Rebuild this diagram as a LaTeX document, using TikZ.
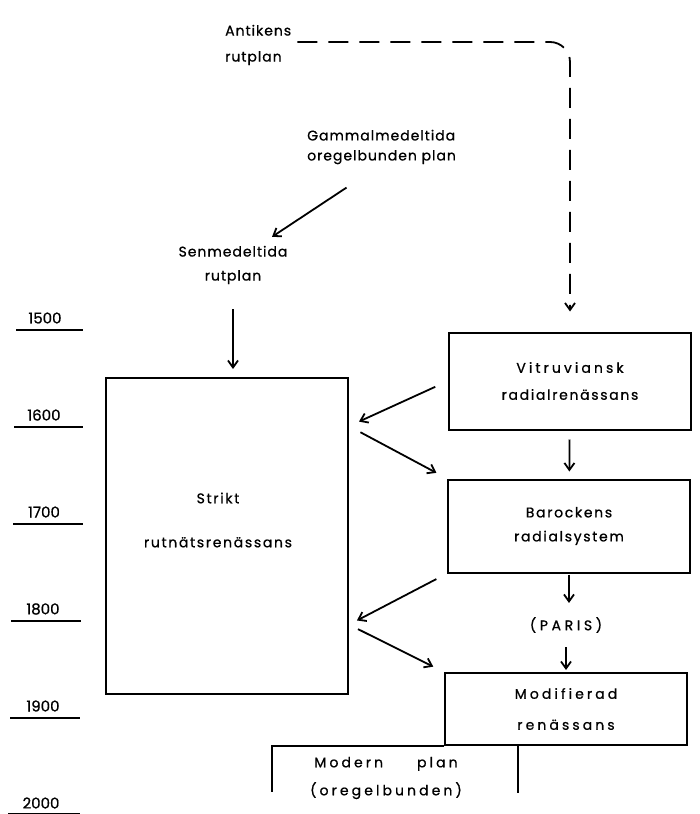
\documentclass[tikz,border=0pt]{standalone}
\usepackage{fontspec}
\newfontfamily\planfont[LetterSpace=7,FakeBold=0.8]{Poppins}
\newfontfamily\boxfont[LetterSpace=12,FakeBold=0.8]{Poppins}
\newfontfamily\widefont[LetterSpace=22,FakeBold=0.8]{Poppins}
\newfontfamily\parisfont[LetterSpace=26,FakeBold=0.8]{Poppins}
\newfontfamily\yearfont[FakeBold=0.8]{Poppins}
\usetikzlibrary{positioning,arrows.meta}

\begin{document}
\begin{tikzpicture}[x=1pt, y=-1pt,
        plantext/.style={font=\planfont\fontsize{14}{18}\selectfont, align=center, inner sep=0pt},
        planbox/.style={rectangle, draw=black, line width=2pt, minimum width=242pt, plantext, font=\boxfont\fontsize{14}{18}\selectfont},
        yearnode/.style={font=\yearfont\fontsize{15}{16}\selectfont, inner sep=0pt},
        yearline/.style={line width=2.2pt},
        arr/.style={line width=1.8pt, -{Straight Barb[length=7pt,width=10pt]}},
        dasharr/.style={arr, dash pattern=on 20pt off 11pt, rounded corners=20pt}]

        \useasboundingbox (0,0) rectangle (700,814);

        \node[plantext, align=left, anchor=west] (1) at (225,45) {Antikens\\[8pt]rutplan};
        \node[plantext, align=left, anchor=west] (2) at (307,147) {Gammalmedeltida\\[2pt]oregelbunden plan};
        \node[plantext] (3) at (233,265) {Senmedeltida\\[6pt]rutplan};
        \node[planbox, minimum height=316pt, label={[plantext, font=\boxfont\fontsize{14}{18}\selectfont, xshift=-9pt, yshift=16pt]center:Strikt\\[26pt]rutnätsrenässans}] (4) at (227,536) {};
        \node[planbox, minimum height=97pt] (5) at (570,381) {{\widefont Vitruviansk}\\[9pt]radialrenässans};
        \node[planbox, minimum height=93pt] (6) at (569,526) {Barockens\\[6pt]radialsystem};
        \node[plantext, font=\parisfont\fontsize{14}{18}\selectfont] (7) at (566,625) {(PARIS)};
        \node[planbox, minimum height=72pt, font=\widefont\fontsize{14}{18}\selectfont] (8) at (566,709) {Modifierad\\[13pt]renässans};
        \node[plantext, font=\widefont\fontsize{14}{18}\selectfont] (9) at (386,778) {Modern\hspace{34pt}plan\\[10pt](oregelbunden)};

        \node[yearnode] (1500) at (45,318) {1500};
        \node[yearnode] (1600) at (44,415) {1600};
        \node[yearnode] (1700) at (44,512) {1700};
        \node[yearnode] (1800) at (43,609) {1800};
        \node[yearnode] (1900) at (43,706) {1900};
        \node[yearnode] (2000) at (41,803) {2000};
        \draw[yearline] (1500) ++(-29,12) -- ++(67,0);
        \draw[yearline] (1600) ++(-30,12) -- ++(69,0);
        \draw[yearline] (1700) ++(-31,12) -- ++(70,0);
        \draw[yearline] (1800) ++(-32,12) -- ++(70,0);
        \draw[yearline] (1900) ++(-33,12) -- ++(70,0);
        \draw[yearline] (2000) ++(-33,11) -- ++(72,0);

        \draw[dasharr, shorten <=6pt, shorten >=20pt] ([yshift=3pt]1.east) -| (5.north);
        \draw[arr, shorten <=42pt, shorten >=16pt] (2.south) -- (3.37);
        \draw[arr, shorten <=25pt, shorten >=8pt] (3) -- (3 |- 4.north);
        \draw[arr, shorten <=14pt, shorten >=11pt] (5.west) -- (4.42);
        \draw[arr, shorten <=13pt, shorten >=12pt] (4.42) -- (6.north west);
        \draw[arr, shorten <=9pt, shorten >=7pt] (5) -- (6);
        \draw[arr, shorten <=12pt, shorten >=9pt] (6.south west) -- (4.-36);
        \draw[arr, shorten <=10pt, shorten >=12pt] (4.-36) -- (8.north west);
        \draw[arr, shorten <=1pt, shorten >=14pt] (6) -- (6 |- 7.north);
        \draw[arr, shorten <=14pt, shorten >=2pt] (7) -- (7 |- 8.north);

        \draw[line width=2pt] (8.south west) -- ++(-172,0) -- ++(0,46);
        \draw[line width=2pt] ([xshift=-170pt]8.south east) -- ++(0,47);

        \end{tikzpicture}
\end{document}
